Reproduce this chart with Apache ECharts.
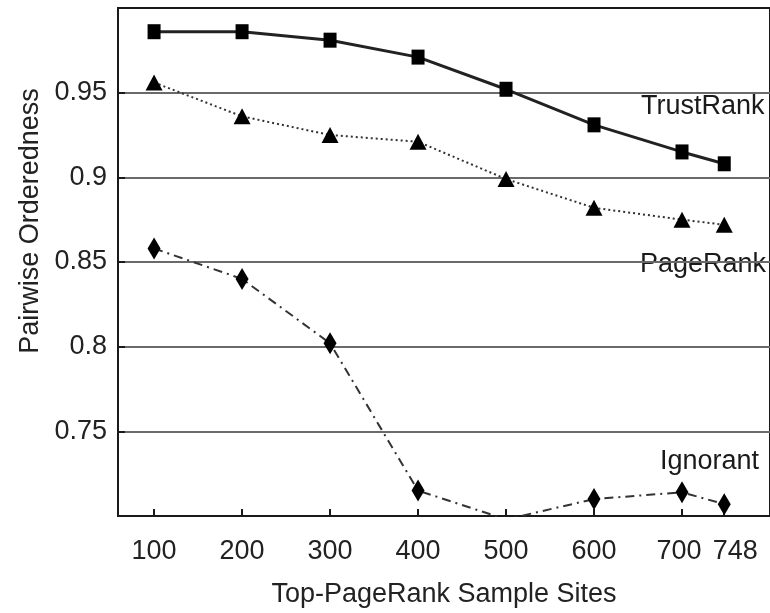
<!DOCTYPE html>
<html>
<head>
<meta charset="utf-8">
<script src="https://cdn.jsdelivr.net/npm/echarts@6/dist/echarts.min.js"></script>
<style>
html,body{margin:0;padding:0;background:#fff;}
#chart{width:770px;height:613px;}
</style>
</head>
<body>
<div id="chart"></div>
<script>
const sampleSites = [100, 200, 300, 400, 500, 600, 700, 748];
const trustRank = [0.986, 0.986, 0.981, 0.971, 0.952, 0.931, 0.915, 0.908];
const pageRank = [0.956, 0.936, 0.925, 0.921, 0.899, 0.882, 0.875, 0.872];
const ignorant = [0.858, 0.840, 0.802, 0.715, 0.698, 0.710, 0.714, 0.707];
const yTicks = [0.75, 0.8, 0.85, 0.9, 0.95];
const seriesNames = ['TrustRank', 'PageRank', 'Ignorant'];

const FONT = '"Liberation Sans", Arial, Helvetica, sans-serif';
const FS = 27;
const pairs = arr => sampleSites.map((x, i) => [x, arr[i]]);
const lastSite = sampleSites[sampleSites.length - 1];
const mainSites = sampleSites.slice(0, -1);

const chart = echarts.init(document.getElementById('chart'));
chart.setOption({
  animation: false,
  backgroundColor: '#fff',
  grid: {
    left: 118, top: 8, right: -2, bottom: 93,
    show: true, borderColor: '#1a1a1a', borderWidth: 2, backgroundColor: 'transparent'
  },
  xAxis: [
    {
      type: 'value', min: 59, max: 800, position: 'bottom',
      name: 'Top-PageRank Sample Sites', nameLocation: 'middle', nameGap: 65,
      nameTextStyle: { fontFamily: FONT, fontSize: FS, color: '#222' },
      axisLine: { show: true, lineStyle: { color: '#1a1a1a', width: 2 } },
      axisTick: { show: true, inside: true, length: 7, customValues: sampleSites, lineStyle: { color: '#1a1a1a', width: 2 } },
      axisLabel: { customValues: mainSites, hideOverlap: false, showMinLabel: true, showMaxLabel: true,
        fontFamily: FONT, fontSize: FS, color: '#222', margin: 22,
        formatter: v => v === 700 ? '{s|700}' : String(v),
        rich: { s: { fontFamily: FONT, fontSize: FS, color: '#222', padding: [0, 6, 0, 0] } } },
      splitLine: { show: false }
    },
    {
      type: 'value', min: 59, max: 800, position: 'bottom',
      axisLine: { show: false }, axisTick: { show: false }, splitLine: { show: false },
      axisLabel: { customValues: [lastSite], hideOverlap: false, showMinLabel: true, showMaxLabel: true,
        fontFamily: FONT, fontSize: FS, color: '#222', margin: 22,
        formatter: v => '{r|' + v + '}',
        rich: { r: { fontFamily: FONT, fontSize: FS, color: '#222', padding: [0, 0, 0, 22] } } }
    }
  ],
  yAxis: {
    type: 'value', min: 0.7, max: 1.0, interval: 0.05,
    name: 'Pairwise Orderedness', nameLocation: 'middle', nameGap: 54,
    nameTextStyle: { fontFamily: FONT, fontSize: FS, color: '#222', padding: [0, 0, 0, 82] },
    axisLine: { show: true, lineStyle: { color: '#1a1a1a', width: 2 } },
    axisTick: { show: true, inside: true, length: 7, customValues: yTicks, lineStyle: { color: '#1a1a1a', width: 2 } },
    axisLabel: { customValues: yTicks, hideOverlap: false, showMinLabel: true, showMaxLabel: true,
      fontFamily: FONT, fontSize: FS, color: '#222', margin: 11,
      formatter: v => String(Math.round(v * 100) / 100) },
    splitLine: { show: true, lineStyle: { color: '#6a6a6a', width: 2 } }
  },
  series: [
    {
      name: seriesNames[0], type: 'line', xAxisIndex: 0, data: pairs(trustRank),
      symbol: 'rect', symbolSize: [13, 15],
      itemStyle: { color: '#000' },
      lineStyle: { color: '#222', width: 3, type: 'solid' }
    },
    {
      name: seriesNames[1], type: 'line', xAxisIndex: 0, data: pairs(pageRank),
      symbol: 'triangle', symbolSize: [17, 16],
      itemStyle: { color: '#000' },
      lineStyle: { color: '#333', width: 2, type: [2, 3] }
    },
    {
      name: seriesNames[2], type: 'line', xAxisIndex: 0, data: pairs(ignorant),
      symbol: 'diamond', symbolSize: [13, 22],
      itemStyle: { color: '#000' },
      lineStyle: { color: '#333', width: 2, type: [9, 5, 2, 5] }
    }
  ],
  graphic: [
    { type: 'text', left: 641, top: 93, style: { text: seriesNames[0], font: FS + 'px ' + FONT, fill: '#1a1a1a' } },
    { type: 'text', left: 640, top: 251, style: { text: seriesNames[1], font: FS + 'px ' + FONT, fill: '#1a1a1a' } },
    { type: 'text', left: 660, top: 448, style: { text: seriesNames[2], font: FS + 'px ' + FONT, fill: '#1a1a1a' } }
  ]
});
</script>
</body>
</html>
